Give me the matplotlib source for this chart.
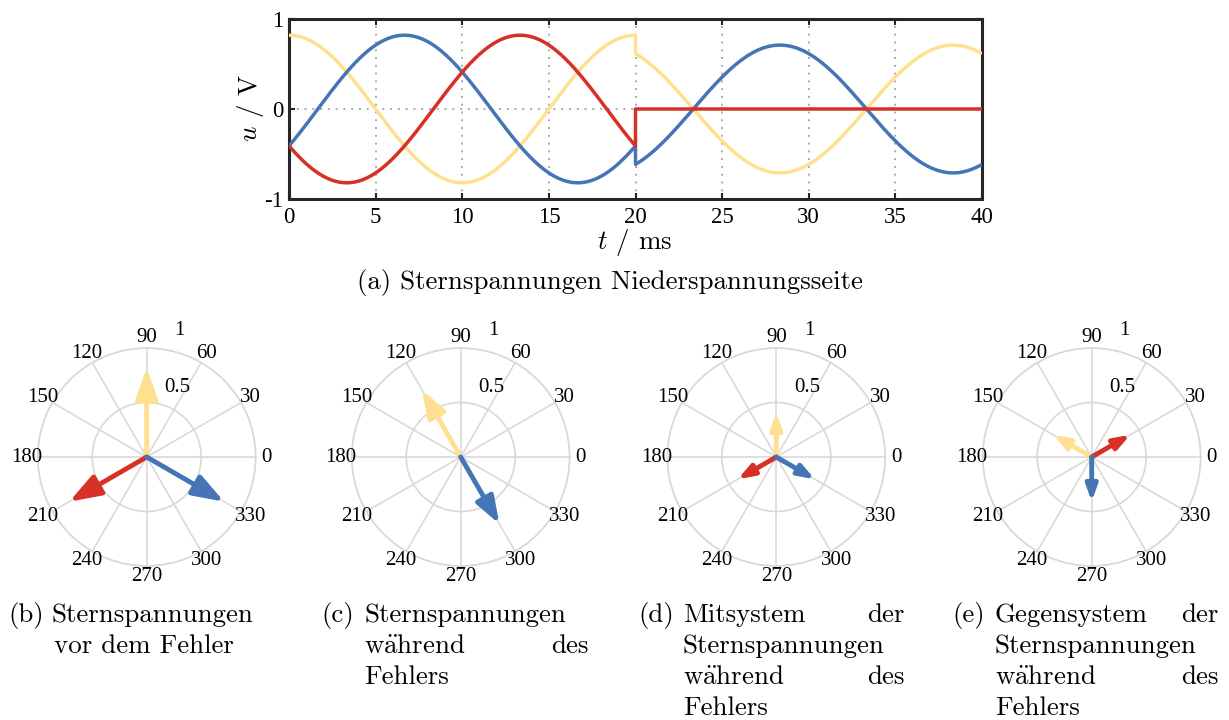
import matplotlib as mpl
mpl.use('Agg')
import matplotlib.pyplot as plt
import numpy as np

plt.rcParams['font.family'] = 'Liberation Serif'
plt.rcParams['mathtext.fontset'] = 'cm'

W, H = 1229, 720

# colours (blue, red, yellow phases)
c_blue = '#4575b4'
c_red = '#d73027'
c_yel = '#fee090'

# phasors: magnitude (V), angle (deg)
# order: yellow, red, blue
names = ['yel', 'red', 'blue']
colors = [c_yel, c_red, c_blue]
mag_pre = [0.82, 0.82, 0.82]
ang_pre = [90, 210, 330]
mag_fault = [0.71, 0.0, 0.71]
ang_fault = [120, 0, 300]
mag_pos = [0.41, 0.41, 0.41]
ang_pos = [90, 210, 330]
mag_neg = [0.41, 0.41, 0.41]
ang_neg = [150, 30, 270]

f_net = 50.0      # Hz
t_fault = 20.0    # ms
t_end = 40.0      # ms

xticks = [0, 5, 10, 15, 20, 25, 30, 35, 40]
yticks = [-1, 0, 1]
yticklabels = ['-1', '0', '1']
angle_ticks = list(range(0, 360, 30))

cap_font = ['cmr10', 'DejaVu Serif']
cap_size = 19.4
WAEHREND = r'$\mathrm{w\ddot{a}hrend}$'


def px(x, y):
    # pixel (from top left) -> figure fraction
    return x / W, 1 - y / H


fig = plt.figure(figsize=(W / 100, H / 100), dpi=100)

# ---------------- (a) time signals
ax = fig.add_axes([289 / W, 1 - 199 / H, 693 / W, 180 / H])
t1 = np.linspace(0, t_fault, 400)
t2 = np.linspace(t_fault, t_end, 400)
for i in [0, 2, 1]:
    u1 = mag_pre[i] * np.sin(2 * np.pi * f_net * t1 / 1000 + np.deg2rad(ang_pre[i]))
    u2 = mag_fault[i] * np.sin(2 * np.pi * f_net * t2 / 1000 + np.deg2rad(ang_fault[i]))
    ax.plot(np.concatenate([t1, t2]), np.concatenate([u1, u2]), color=colors[i], lw=2.5,
            solid_capstyle='butt', zorder=3)

ax.set_xlim(0, t_end)
ax.set_ylim(-1, 1)
ax.set_xticks(xticks)
ax.set_yticks(yticks)
ax.set_yticklabels(yticklabels)
for xt in xticks[1:-1]:
    ax.axvline(xt, color='#aaaaaa', lw=1.4, ls=(0, (1, 3)), zorder=1)
ax.axhline(0, color='#aaaaaa', lw=1.4, ls=(0, (1, 3)), zorder=1)
for s in ax.spines.values():
    s.set_linewidth(2.2)
    s.set_color('#262626')
ax.tick_params(direction='in', length=4.5, width=1.5, color='#262626', labelsize=16.5,
               top=True, right=True, pad=4)
ax.tick_params(axis='x', pad=6)

fig.text(*px(635, 243), r'$t$ / ms', fontsize=cap_size, family=cap_font, ha='center', va='center')
fig.text(*px(250, 108), r'$u$ / V', fontsize=cap_size, family=cap_font, ha='center', va='center',
         rotation=90)
fig.text(*px(610, 283), '(a) Sternspannungen Niederspannungsseite', fontsize=cap_size,
         family=cap_font, ha='center', va='center')

# ---------------- (b)-(e) phasor diagrams
centers = [146.7, 460.7, 776.3, 1091.7]
cy = 457
R = 109
panels = [(mag_pre, ang_pre), (mag_fault, ang_fault), (mag_pos, ang_pos), (mag_neg, ang_neg)]

for cx, (mags, angs) in zip(centers, panels):
    pa = fig.add_axes([(cx - R) / W, 1 - (cy + R) / H, 2 * R / W, 2 * R / H], projection='polar')
    pa.set_ylim(0, 1)
    pa.set_xticks(np.deg2rad(angle_ticks))
    pa.set_xticklabels([])
    pa.set_yticks([0.5, 1.0])
    pa.set_yticklabels([])
    pa.grid(True, color='#d9d9d9', lw=1.2)
    pa.spines['polar'].set_color('#d9d9d9')
    pa.spines['polar'].set_linewidth(1.2)
    pa.tick_params(length=0)
    for a in angle_ticks:
        pa.text(np.deg2rad(a), 1.1, str(a), fontsize=15, ha='center', va='center', clip_on=False)
    pa.text(np.deg2rad(73.3), 0.575, '0.5', fontsize=15, ha='left', va='bottom')
    pa.text(np.deg2rad(76.8), 1.10, '1', fontsize=15, ha='left', va='bottom', clip_on=False)
    for i in [0, 1, 2]:
        if mags[i] <= 0:
            continue
        pa.annotate('', xy=(np.deg2rad(angs[i]), mags[i]), xytext=(0, 0),
                    arrowprops=dict(arrowstyle='-|>,head_length=0.85,head_width=0.3',
                                    color=colors[i], lw=3.5, shrinkA=0, shrinkB=0,
                                    mutation_scale=27 * mags[i]))

# ---------------- sub captions (justified like LaTeX)
def word(x, y, s, ha='left'):
    fig.text(*px(x, y), s, fontsize=cap_size, family=cap_font, ha=ha, va='baseline')

base = [622, 653, 684, 715]
word(8, base[0], '(b)')
word(52, base[0], 'Sternspannungen')
word(54, base[1], 'vor dem Fehler')

word(321, base[0], '(c)')
word(364, base[0], 'Sternspannungen')
word(364, base[1], WAEHREND)
word(589, base[1], 'des', 'right')
word(364, base[2], 'Fehlers')

word(638, base[0], '(d)')
word(683, base[0], 'Mitsystem')
word(904, base[0], 'der', 'right')
word(683, base[1], 'Sternspannungen')
word(683, base[2], WAEHREND)
word(904, base[2], 'des', 'right')
word(683, base[3], 'Fehlers')

word(952, base[0], '(e)')
word(995, base[0], 'Gegensystem')
word(1219, base[0], 'der', 'right')
word(995, base[1], 'Sternspannungen')
word(995, base[2], WAEHREND)
word(1219, base[2], 'des', 'right')
word(995, base[3], 'Fehlers')

fig.savefig('out.png', dpi=100)
